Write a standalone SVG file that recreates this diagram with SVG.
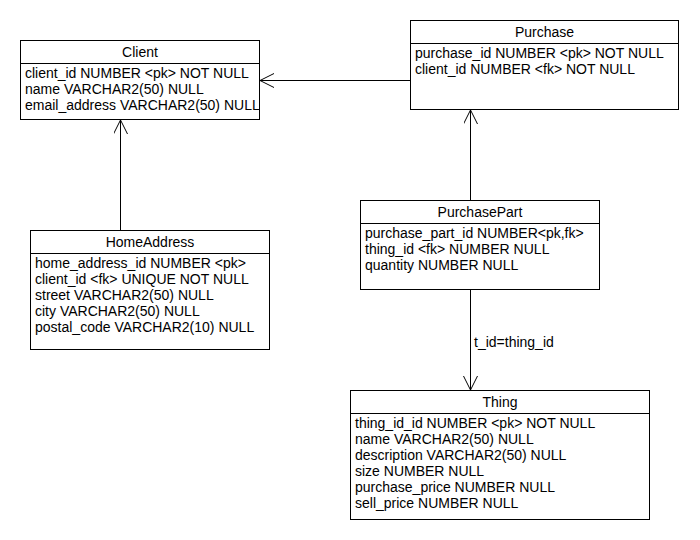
<svg xmlns="http://www.w3.org/2000/svg" width="700" height="540" viewBox="0 0 700 540">
<style>
text{font-family:"Liberation Sans",Arial,sans-serif;font-size:14px;fill:#000}
.t{text-anchor:middle}
.box{fill:#fff;stroke:#000;stroke-width:1}
.div{stroke:#000;stroke-width:1}
.c{stroke:#000;stroke-width:1;fill:none}
</style>
<defs>
<marker id="arr" markerWidth="16" markerHeight="16" refX="14" refY="7" orient="auto" markerUnits="userSpaceOnUse">
<path d="M0,0 L14,7 L0,14" fill="none" stroke="#000" stroke-width="1"/>
</marker>
</defs>
<rect width="700" height="540" fill="#fff"/>
<g id="connectors">
<line class="c" x1="410" y1="80.5" x2="260" y2="80.5" marker-end="url(#arr)"/>
<line class="c" x1="120.5" y1="230" x2="120.5" y2="120" marker-end="url(#arr)"/>
<line class="c" x1="470.5" y1="200" x2="470.5" y2="110" marker-end="url(#arr)"/>
<line class="c" x1="470.5" y1="290" x2="470.5" y2="390" marker-end="url(#arr)"/>
<text x="474" y="347">t_id=thing_id</text>
</g>
<g id="Client">
<rect class="box" x="20.5" y="40.5" width="239" height="79"/>
<line class="div" x1="20.5" y1="63.5" x2="259.5" y2="63.5"/>
<text class="t" x="140" y="57">Client</text>
<text x="25" y="78">client_id NUMBER &lt;pk&gt; NOT NULL</text>
<text x="25" y="94">name VARCHAR2(50) NULL</text>
<text x="25" y="110">email_address VARCHAR2(50) NULL</text>
</g>
<g id="Purchase">
<rect class="box" x="410.5" y="20.5" width="268" height="89"/>
<line class="div" x1="410.5" y1="43.5" x2="678.5" y2="43.5"/>
<text class="t" x="544.5" y="37">Purchase</text>
<text x="415" y="58">purchase_id NUMBER &lt;pk&gt; NOT NULL</text>
<text x="415" y="74">client_id NUMBER &lt;fk&gt; NOT NULL</text>
</g>
<g id="PurchasePart">
<rect class="box" x="360.5" y="200.5" width="239" height="89"/>
<line class="div" x1="360.5" y1="223.5" x2="599.5" y2="223.5"/>
<text class="t" x="480" y="217">PurchasePart</text>
<text x="365" y="238">purchase_part_id NUMBER&lt;pk,fk&gt;</text>
<text x="365" y="254">thing_id &lt;fk&gt; NUMBER NULL</text>
<text x="365" y="270">quantity NUMBER NULL</text>
</g>
<g id="HomeAddress">
<rect class="box" x="30.5" y="230.5" width="239" height="119"/>
<line class="div" x1="30.5" y1="253.5" x2="269.5" y2="253.5"/>
<text class="t" x="150" y="247">HomeAddress</text>
<text x="35" y="268">home_address_id NUMBER &lt;pk&gt;</text>
<text x="35" y="284">client_id &lt;fk&gt; UNIQUE NOT NULL</text>
<text x="35" y="300">street VARCHAR2(50) NULL</text>
<text x="35" y="316">city VARCHAR2(50) NULL</text>
<text x="35" y="332">postal_code VARCHAR2(10) NULL</text>
</g>
<g id="Thing">
<rect class="box" x="350.5" y="390.5" width="299" height="129"/>
<line class="div" x1="350.5" y1="413.5" x2="649.5" y2="413.5"/>
<text class="t" x="500" y="407">Thing</text>
<text x="355" y="428">thing_id_id NUMBER &lt;pk&gt; NOT NULL</text>
<text x="355" y="444">name VARCHAR2(50) NULL</text>
<text x="355" y="460">description VARCHAR2(50) NULL</text>
<text x="355" y="476">size NUMBER NULL</text>
<text x="355" y="492">purchase_price NUMBER NULL</text>
<text x="355" y="508">sell_price NUMBER NULL</text>
</g>
</svg>
